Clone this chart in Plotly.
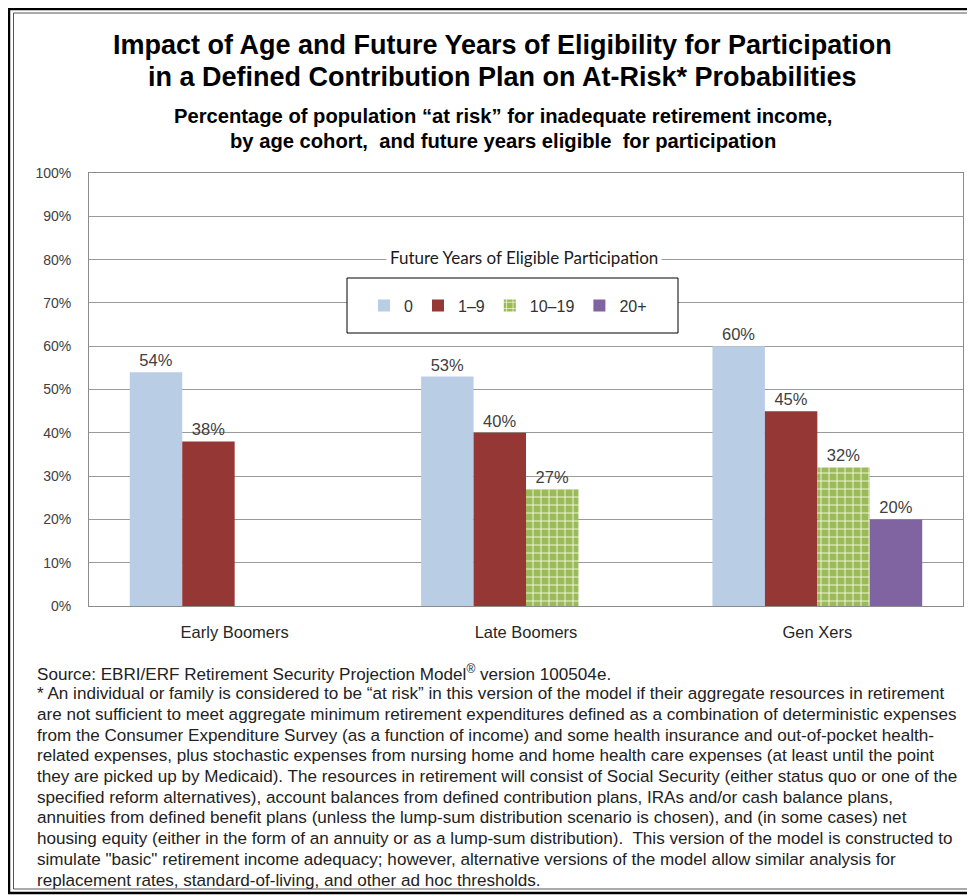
import plotly.graph_objects as go

# The page adds an 8px body margin, so the figure is shifted by 8px.
OFF = 8
W, H = 975 - OFF, 896 - OFF
L, R, T, B = 89, 963, 173, 606  # plot area in reference-pixel coordinates

categories = ["Early Boomers", "Late Boomers", "Gen Xers"]
series_names = ["0", "1\u20139", "10\u201319", "20+"]
values_0 = [0.54, 0.53, 0.60]
values_1_9 = [0.38, 0.40, 0.45]
values_10_19 = [None, 0.27, 0.32]
values_20p = [None, None, 0.20]
y_ticks = [0, 0.1, 0.2, 0.3, 0.4, 0.5, 0.6, 0.7, 0.8, 0.9, 1.0]

title_lines = [
    "Impact of Age and Future Years of Eligibility for Participation",
    "in a Defined Contribution Plan on At-Risk* Probabilities",
]
subtitle_lines = [
    "Percentage of population \u201cat risk\u201d for inadequate retirement income,",
    "by age cohort,  and future years eligible  for participation",
]
legend_title = "Future Years of Eligible Participation"
footer_lines = [
    "Source: EBRI/ERF Retirement Security Projection Model<sup>\u00ae</sup> version 100504e.",
    "* An individual or family is considered to be \u201cat risk\u201d in this version of the model if their aggregate resources in retirement",
    "are not sufficient to meet aggregate minimum retirement expenditures defined as a combination of deterministic expenses",
    "from the Consumer Expenditure Survey (as a function of income) and some health insurance and out-of-pocket health-",
    "related expenses, plus stochastic expenses from nursing home and home health care expenses (at least until the point",
    "they are picked up by Medicaid). The resources in retirement will consist of Social Security (either status quo or one of the",
    "specified reform alternatives), account balances from defined contribution plans, IRAs and/or cash balance plans,",
    "annuities from defined benefit plans (unless the lump-sum distribution scenario is chosen), and (in some cases) net",
    "housing equity (either in the form of an annuity or as a lump-sum distribution).  This version of the model is constructed to",
    "simulate \"basic\" retirement income adequacy; however, alternative versions of the model allow similar analysis for",
    "replacement rates, standard-of-living, and other ad hoc thresholds.",
]


def px(xp):
    return (xp - L) / (R - L)


def py(yp):
    return (B - yp) / (B - T)


FONT = "Liberation Sans, Arial, sans-serif"
fig = go.Figure()
colors = ["#b9cde5", "#953735", "#9bbb59", "#8064a2"]
all_vals = [values_0, values_1_9, values_10_19, values_20p]
for name, vals, col in zip(series_names, all_vals, colors):
    xs = [c for c, v in zip(categories, vals) if v is not None]
    ys = [v for v in vals if v is not None]
    if name == series_names[2]:
        marker = dict(color=col, line=dict(width=0),
                      pattern=dict(shape="+", fgcolor="#f2f8dc", bgcolor=col,
                                   size=8, solidity=0.22, fillmode="replace"))
    else:
        marker = dict(color=col, line=dict(width=0))
    fig.add_trace(go.Bar(
        x=xs, y=ys, name=name, marker=marker,
        text=[f"{round(v*100)}%" for v in ys], textposition="outside",
        textfont=dict(family=FONT, size=16.5, color="#404040"),
        cliponaxis=False,
    ))

annotations = []
for i, t in enumerate(title_lines):
    annotations.append(dict(text=f"<b>{t}</b>", x=px(502), y=py(45 + 32 * i), xref="paper", yref="paper",
                            showarrow=False, xanchor="center", yanchor="middle",
                            font=dict(family=FONT, size=27, color="#000000")))
for i, t in enumerate(subtitle_lines):
    annotations.append(dict(text=f"<b>{t}</b>", x=px(503), y=py(116 + 25 * i), xref="paper", yref="paper",
                            showarrow=False, xanchor="center", yanchor="middle",
                            font=dict(family=FONT, size=20.2, color="#000000")))
annotations.append(dict(text=legend_title, x=px(524), y=py(257), xref="paper", yref="paper",
                        showarrow=False, xanchor="center", yanchor="middle", bgcolor="#ffffff",
                        borderpad=3,
                        font=dict(family="Lato, Open Sans, sans-serif", size=17, color="#1a1a1a")))
for i, t in enumerate(footer_lines):
    annotations.append(dict(text=t, x=px(35), y=py(673 + 20.7 * i), xref="paper", yref="paper",
                            showarrow=False, xanchor="left", yanchor="middle", align="left",
                            font=dict(family=FONT, size=17.1, color="#222222")))

shapes = [
    # legend box
    dict(type="rect", xref="paper", yref="paper", x0=px(347), x1=px(678), y0=py(333), y1=py(278),
         line=dict(color="#000000", width=1), fillcolor="#ffffff", layer="above"),
    # outer frame (double line)
    dict(type="rect", xref="paper", yref="paper", x0=px(9), x1=px(990), y0=py(893), y1=py(9),
         line=dict(color="#000000", width=2.5), fillcolor="rgba(0,0,0,0)", layer="above"),
    dict(type="rect", xref="paper", yref="paper", x0=px(13.5), x1=px(990), y0=py(889), y1=py(13),
         line=dict(color="#555555", width=1), fillcolor="rgba(0,0,0,0)", layer="above"),
]

fig.update_layout(
    width=W, height=H,
    margin=dict(l=L - OFF, r=W - (R - OFF), t=T - OFF, b=H - (B - OFF), autoexpand=False),
    paper_bgcolor="#ffffff", plot_bgcolor="#ffffff",
    barmode="group", bargap=0.28, bargroupgap=0,
    showlegend=True,
    legend=dict(orientation="h", x=px(364), y=py(305.5), xanchor="left", yanchor="middle",
                bgcolor="rgba(0,0,0,0)", borderwidth=0, itemwidth=30,
                font=dict(family=FONT, size=16, color="#333333"), traceorder="normal"),
    annotations=annotations,
    shapes=shapes,
    font=dict(family=FONT),
)
fig.update_xaxes(showgrid=False, showline=True, linecolor="#8c8c8c", linewidth=1, mirror=True,
                 ticks="", tickfont=dict(family=FONT, size=16.5, color="#262626"), ticklabelstandoff=11)
fig.update_yaxes(range=[0, 1], tickvals=y_ticks, tickformat=".0%", showgrid=True, gridcolor="#9a9a9a",
                 gridwidth=1, showline=True, linecolor="#8c8c8c", linewidth=1, mirror=True, zeroline=False,
                 ticks="", tickfont=dict(family=FONT, size=14, color="#404040"), ticklabelstandoff=14)

fig.write_html("out.html")
